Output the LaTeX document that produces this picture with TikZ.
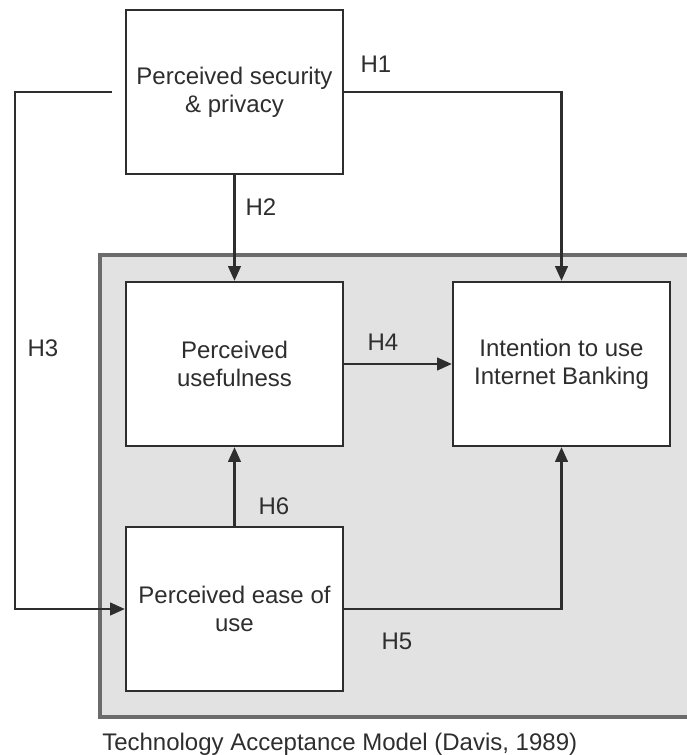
\documentclass[tikz,border=0pt]{standalone}
\usepackage{fontspec}
\setmainfont{Liberation Sans}
\usetikzlibrary{arrows.meta}
\definecolor{TamClr}{gray}{0.885}
\definecolor{TamLine}{gray}{0.42}
\definecolor{InkClr}{gray}{0.18}

\begin{document}
\begin{tikzpicture}[x=0.75pt,y=-0.75pt,
  font=\fontsize{18}{21}\selectfont,
  box/.style={draw=InkClr,fill=white,line width=1.8pt,minimum width=162.75pt,
    minimum height=123pt,align=center,text=InkClr,inner sep=0pt},
  link/.style={draw=InkClr,line width=1.6pt,-{Triangle[length=11pt,width=9.5pt]}},
  hyp/.style={text=InkClr,inner sep=0pt}]
\useasboundingbox (0,0) rectangle (686,755);

% TAM frame
\fill[TamClr] (100,255) rectangle (688,717);
\draw[TamLine,line width=2.4pt] (688,255) -- (100,255) -- (100,717) -- (688,717);

\node[box] (sec)  at (234.5,92)  {Perceived security\\\& privacy};
\node[box] (use)  at (234.5,364) {Perceived\\usefulness};
\node[box] (int)  at (561.5,364) {Intention to use\\Internet Banking};
\node[box] (ease) at (234.5,609) {Perceived ease of\\use};

\coordinate (h3turn) at (15,92);

\draw[link] (sec.east) -| (int.north);
\draw[link] (sec.south) -- (use.north);
\draw[link] ([xshift=-9.75pt]sec.west) -- (h3turn) |- (ease.west);
\draw[link] (use.east) -- (int.west);
\draw[link] (ease.east) -| (int.south);
\draw[link] (ease.north) -- (use.south);

\node[hyp] (h1) at (376,64)  {H1};
\node[hyp] (h2) at (261,207) {H2};
\node[hyp] (h3) at (43,348)  {H3};
\node[hyp] (h4) at (383,342) {H4};
\node[hyp] (h5) at (397,641) {H5};
\node[hyp] (h6) at (274,506) {H6};

\node[hyp,anchor=base west] (cap) at (102,750) {Technology Acceptance Model (Davis, 1989)};

\end{tikzpicture}
\end{document}
